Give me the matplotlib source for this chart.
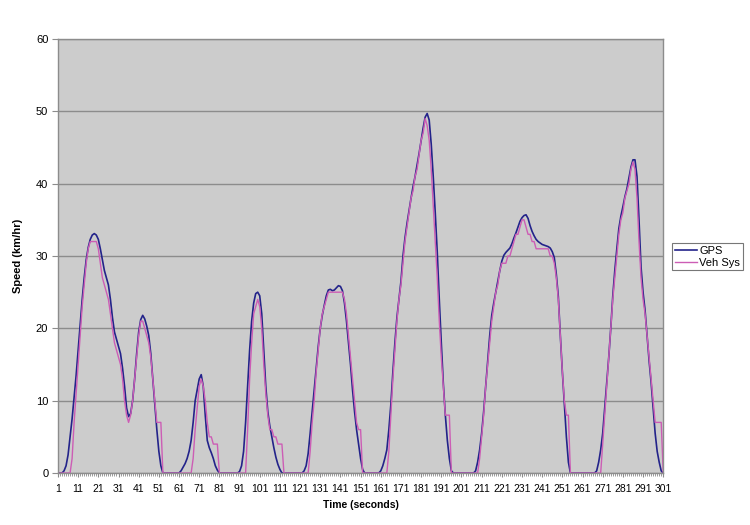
import matplotlib
matplotlib.use("Agg")
import matplotlib.pyplot as plt
from matplotlib.ticker import MultipleLocator, FixedLocator

# speed readings, one per second (t = 1..301)
time_s = list(range(1, 302))

gps = [
    0, 0, 0, 0.3, 1, 2.5, 5, 7.5, 10.5, 13.5,                     # 1-10
    17, 20.5, 24, 27, 29.5, 31.2, 32.3, 32.9, 33.1, 32.9,          # 11-20
    32.3, 31, 29.5, 28, 27, 26, 24, 21.5, 19.5, 18.5,              # 21-30
    17.5, 16.5, 14.5, 12, 9, 7.8, 8.2, 10, 13, 16.5,               # 31-40
    19.5, 21.2, 21.8, 21.3, 20.3, 19, 16.5, 13, 9.5, 6,            # 41-50
    3, 1, 0, 0, 0, 0, 0, 0, 0, 0,                                  # 51-60
    0, 0.3, 0.8, 1.3, 2, 3, 4.5, 7, 10, 11.5,                      # 61-70
    13, 13.6, 12, 8, 4.5, 3.5, 2.8, 2, 1, 0.4,                     # 71-80
    0, 0, 0, 0, 0, 0, 0, 0, 0, 0,                                  # 81-90
    0.2, 1, 3, 7, 12, 17, 21, 23.5, 24.8, 25,                      # 91-100
    24.5, 22, 17, 12, 8.5, 6.5, 5, 3.5, 2.2, 1.2,                  # 101-110
    0.5, 0, 0, 0, 0, 0, 0, 0, 0, 0,                                # 111-120
    0, 0, 0.3, 1, 2.7, 5.5, 8.5, 11.5, 14.5, 17.5,                 # 121-130
    20, 21.8, 23.2, 24.5, 25.3, 25.4, 25.2, 25.3, 25.6, 25.9,      # 131-140
    25.8, 25.2, 23.5, 21, 18, 15, 11.5, 8.5, 6, 4,                 # 141-150
    2, 0.5, 0, 0, 0, 0, 0, 0, 0, 0,                                # 151-160
    0.3, 1, 2, 3.2, 6, 9.5, 14, 18, 21.5, 24,                      # 161-170
    26.5, 30, 32.5, 34.5, 36.3, 38, 39.6, 41, 42.6, 44.2,          # 171-180
    46, 47.7, 49.2, 49.7, 48.8, 45.5, 41, 36, 30.5, 24,            # 181-190
    18, 12.4, 8, 4.5, 2, 0.3, 0, 0, 0, 0,                          # 191-200
    0, 0, 0, 0, 0, 0, 0, 0.3, 1.5, 3.2,                            # 201-210
    5.5, 8.5, 12, 15.5, 19, 21.8, 23.5, 25, 26.5, 28,              # 211-220
    29.3, 30.1, 30.5, 30.8, 31.1, 31.7, 32.5, 33.2, 34, 34.8,      # 221-230
    35.3, 35.6, 35.7, 35.2, 34.2, 33.4, 32.8, 32.3, 32, 31.8,      # 231-240
    31.6, 31.5, 31.4, 31.3, 31.1, 30.6, 29.8, 27.5, 24.4, 19,      # 241-250
    14, 9.5, 5, 1.5, 0, 0, 0, 0, 0, 0,                             # 251-260
    0, 0, 0, 0, 0, 0, 0, 0.3, 1.5, 3.2,                            # 261-270
    5.5, 9, 12.5, 16, 20, 24.5, 28, 31, 33.8, 35.5,                # 271-280
    36.8, 38.2, 39.3, 40.8, 42.3, 43.3, 43.3, 41, 35, 28.5,        # 281-290
    25, 22.5, 19, 15.5, 12.5, 9, 5.5, 3, 1.5, 0.3,                 # 291-300
    0,                                                             # 301
]

veh_sys = [
    0, 0, 0, 0, 0, 0, 0, 2, 7, 11,                                 # 1-10
    15, 19, 23, 26, 29, 31, 32, 32, 32, 32,                        # 11-20
    31, 29, 27, 26, 25, 24, 22, 20, 18, 17,                        # 21-30
    16, 15, 13, 10, 8, 7, 8, 10, 13, 16,                           # 31-40
    19, 21, 21, 20, 19, 18, 16, 13, 10, 7,                         # 41-50
    7, 7, 0, 0, 0, 0, 0, 0, 0, 0,                                  # 51-60
    0, 0, 0, 0, 0, 0, 0, 2, 6, 9,                                  # 61-70
    12, 13, 12, 10, 7, 5, 5, 4, 4, 4,                              # 71-80
    0, 0, 0, 0, 0, 0, 0, 0, 0, 0,                                  # 81-90
    0, 0, 0, 0, 6, 13, 18, 22, 23, 24,                             # 91-100
    23, 20, 15, 11, 8, 6, 6, 5, 5, 4,                              # 101-110
    4, 4, 0, 0, 0, 0, 0, 0, 0, 0,                                  # 111-120
    0, 0, 0, 0, 0, 3, 7, 10, 14, 17,                               # 121-130
    20, 22, 23, 24, 25, 25, 25, 25, 25, 25,                        # 131-140
    25, 25, 24, 22, 19, 16, 13, 10, 7, 6,                          # 141-150
    6, 0, 0, 0, 0, 0, 0, 0, 0, 0,                                  # 151-160
    0, 0, 0, 0, 3, 8, 13, 17, 21, 24,                              # 161-170
    26, 29, 32, 34, 36, 38, 39, 41, 42, 44,                        # 171-180
    46, 47, 49, 48, 46, 42, 37, 32, 27, 21,                        # 181-190
    16, 12, 8, 8, 8, 0, 0, 0, 0, 0,                                # 191-200
    0, 0, 0, 0, 0, 0, 0, 0, 0, 2,                                  # 201-210
    5, 8, 12, 15, 18, 21, 23, 25, 26, 28,                          # 211-220
    29, 29, 29, 30, 30, 31, 32, 33, 33, 34,                        # 221-230
    35, 35, 34, 33, 33, 32, 32, 31, 31, 31,                        # 231-240
    31, 31, 31, 31, 30, 30, 29, 27, 24, 19,                        # 241-250
    14, 10, 8, 8, 0, 0, 0, 0, 0, 0,                                # 251-260
    0, 0, 0, 0, 0, 0, 0, 0, 0, 0,                                  # 261-270
    4, 8, 12, 16, 20, 24, 27, 30, 33, 35,                          # 271-280
    36, 38, 39, 40, 42, 43, 42, 38, 32, 27,                        # 281-290
    24, 22, 19, 16, 13, 10, 7, 7, 7, 7,                            # 291-300
    0,                                                             # 301
]

x_ticks = list(range(1, 302, 10))
y_ticks = [0, 10, 20, 30, 40, 50, 60]

plt.rcParams['font.family'] = ['Liberation Sans', 'DejaVu Sans']

fig = plt.figure(figsize=(7.5, 5.25), dpi=100)
ax = fig.add_axes([0.0773, 0.099, 0.807, 0.8267])
ax.set_facecolor('#CCCCCC')

ax.plot(time_s, gps, color='#23238A', lw=1.2, label='GPS')
ax.plot(time_s, veh_sys, color='#CC5DB5', lw=1.0, label='Veh Sys')

ax.set_xlim(1, 301)
ax.set_ylim(0, 60)
ax.xaxis.set_major_locator(FixedLocator(x_ticks))
ax.xaxis.set_minor_locator(MultipleLocator(1))
ax.set_yticks(y_ticks)
ax.yaxis.grid(True, color='#8C8C8C', lw=1)
ax.set_axisbelow(True)

for s in ax.spines.values():
    s.set_color('#8C8C8C')
    s.set_linewidth(1)

ax.tick_params(axis='x', which='major', length=3, color='#8C8C8C', labelsize=7.5, pad=5)
ax.tick_params(axis='x', which='minor', length=2, color='#8C8C8C')
ax.tick_params(axis='y', length=4, color='#8C8C8C', labelsize=8, pad=3)

ax.set_xlabel('Time (seconds)', fontsize=7.5, fontweight='bold', labelpad=4)
ax.set_ylabel('Speed (km/hr)', fontsize=8, fontweight='bold', labelpad=9)

leg = fig.legend(loc='upper left', bbox_to_anchor=(0.896, 0.537), fontsize=8,
                 frameon=True, fancybox=False, handlelength=2.0, handletextpad=0.2,
                 borderpad=0.25, labelspacing=0.15, borderaxespad=0)
leg.get_frame().set_edgecolor('#555555')
leg.get_frame().set_linewidth(0.8)

fig.savefig('out.png', dpi=100)
